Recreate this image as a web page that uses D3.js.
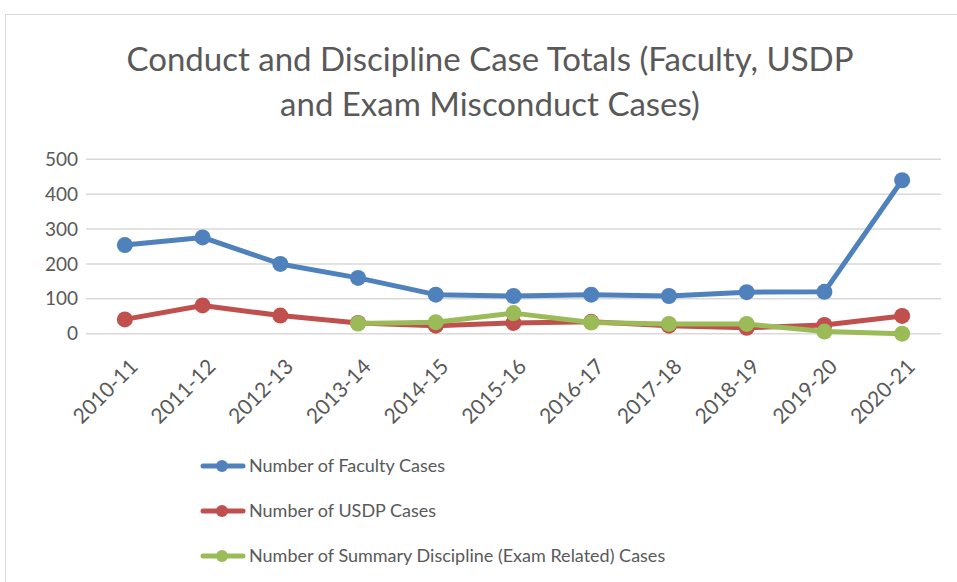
<!DOCTYPE html>
<html lang="en">
<head>
    <meta charset="UTF-8">
    <title>Conduct and Discipline Case Totals</title>
    <script src="https://d3js.org/d3.v7.min.js"></script>
    <style>
        body { margin: 0; background: #fff; }
        text { font-family: Lato, "Open Sans", sans-serif; fill: #595959; }
    </style>
</head>
<body>
    <svg id="chart" width="957" height="582"></svg>
    <script>
        const years = ["2010-11", "2011-12", "2012-13", "2013-14", "2014-15", "2015-16",
            "2016-17", "2017-18", "2018-19", "2019-20", "2020-21"];
        const facultyCases = [254, 276, 200, 160, 112, 108, 112, 108, 119, 120, 440];
        const usdpCases = [41, 81, 52, 31, 23, 31, 34, 23, 17, 25, 51];
        const examCases = [null, null, null, 29, 33, 59, 32, 28, 28, 6, 0];
        const yTicks = [0, 100, 200, 300, 400, 500];

        const series = [
            { name: "Number of Faculty Cases", values: facultyCases, color: "#4f81bd" },
            { name: "Number of USDP Cases", values: usdpCases, color: "#c0504d" },
            { name: "Number of Summary Discipline (Exam Related) Cases", values: examCases, color: "#9bbb59" }
        ];

        const svg = d3.select("#chart");

        // outer frame
        svg.append("rect")
            .attr("x", 5.5).attr("y", 14.5)
            .attr("width", 960).attr("height", 580)
            .attr("fill", "none")
            .attr("stroke", "#d9d9d9");

        svg.append("text")
            .attr("x", 490).attr("y", 71)
            .attr("text-anchor", "middle")
            .attr("font-size", "33px")
            .text("Conduct and Discipline Case Totals (Faculty, USDP");
        svg.append("text")
            .attr("x", 490).attr("y", 116)
            .attr("text-anchor", "middle")
            .attr("font-size", "33px")
            .text("and Exam Misconduct Cases)");

        const x = d3.scaleBand().domain(years).range([86, 941]);
        const y = d3.scaleLinear().domain([0, 500]).range([333.7, 159.3]);

        const grid = svg.append("g");
        grid.selectAll("line")
            .data(yTicks)
            .enter().append("line")
            .attr("x1", 86).attr("x2", 941)
            .attr("y1", d => y(d)).attr("y2", d => y(d))
            .attr("stroke", "#d9d9d9")
            .attr("stroke-width", 1.5);

        const yAxis = svg.append("g")
            .attr("transform", "translate(78,0)")
            .call(d3.axisLeft(y).tickValues(yTicks).tickSize(0).tickPadding(0));
        yAxis.select(".domain").remove();
        yAxis.selectAll("text")
            .attr("font-size", "19px")
            .attr("fill", "#595959")
            .style("font-family", "Lato, 'Open Sans', sans-serif");

        const xAxis = svg.append("g")
            .attr("transform", "translate(0,333.7)")
            .call(d3.axisBottom(x).tickSize(0).tickPadding(0));
        xAxis.select(".domain").remove();
        xAxis.selectAll("text")
            .attr("font-size", "21px")
            .attr("fill", "#595959")
            .style("font-family", "Lato, 'Open Sans', sans-serif")
            .attr("text-anchor", "end")
            .attr("dy", "0.35em")
            .attr("transform", "translate(9,29) rotate(-45)");

        const line = d3.line()
            .defined(d => d.v !== null)
            .x(d => x(d.year) + x.bandwidth() / 2)
            .y(d => y(d.v));

        series.forEach(s => {
            const pts = years.map((yr, i) => ({ year: yr, v: s.values[i] }));
            const g = svg.append("g");
            g.append("path")
                .datum(pts)
                .attr("d", line)
                .attr("fill", "none")
                .attr("stroke", s.color)
                .attr("stroke-width", 5)
                .attr("stroke-linejoin", "round")
                .attr("stroke-linecap", "round");
            g.selectAll("circle")
                .data(pts.filter(d => d.v !== null))
                .enter().append("circle")
                .attr("cx", d => x(d.year) + x.bandwidth() / 2)
                .attr("cy", d => y(d.v))
                .attr("r", 8)
                .attr("fill", s.color);
        });

        const legend = svg.append("g");
        series.forEach((s, i) => {
            const ly = 466 + i * 45;
            legend.append("line")
                .attr("x1", 203).attr("x2", 243)
                .attr("y1", ly).attr("y2", ly)
                .attr("stroke", s.color)
                .attr("stroke-width", 5)
                .attr("stroke-linecap", "round");
            legend.append("circle")
                .attr("cx", 222).attr("cy", ly).attr("r", 6)
                .attr("fill", s.color);
            legend.append("text")
                .attr("x", 249).attr("y", ly)
                .attr("dy", "0.35em")
                .attr("font-size", "18px")
                .text(s.name);
        });
    </script>
</body>
</html>
